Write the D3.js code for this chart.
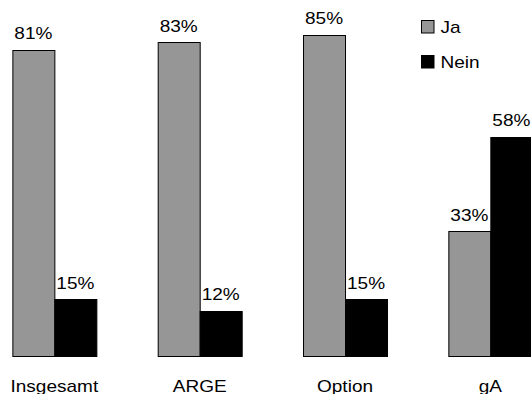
<!DOCTYPE html>
<html>
<head>
<meta charset="utf-8">
<script src="https://cdn.jsdelivr.net/npm/d3@7"></script>
<style>
  html, body { margin: 0; padding: 0; background: #fff; }
  svg { display: block; }
  text { font-family: "Liberation Sans", Arial, sans-serif; fill: #000; }
</style>
</head>
<body>
<svg id="chart" width="531" height="394"></svg>
<script>
// Survey answers per group (percent)
const categories = ["Insgesamt", "ARGE", "Option", "gA"];
const seriesNames = ["Ja", "Nein"];
const jaValues = [81, 83, 85, 33];
const neinValues = [15, 12, 15, 58];
const seriesColors = ["#969696", "#000000"];

const width = 531, height = 394;
const svg = d3.select("#chart");

const data = categories.map((c, i) => ({
  category: c,
  values: [
    { key: seriesNames[0], value: jaValues[i] },
    { key: seriesNames[1], value: neinValues[i] }
  ]
}));

// Category bands: 4 groups of two touching bars
const x0 = d3.scaleBand()
  .domain(categories)
  .range([-18.3, 563])
  .paddingInner(0.422)
  .paddingOuter(0.211);

const x1 = d3.scaleBand()
  .domain(seriesNames)
  .range([0, x0.bandwidth()])
  .padding(0);

const y = d3.scaleLinear().domain([0, 100]).range([356, -22]);

const color = d3.scaleOrdinal().domain(seriesNames).range(seriesColors);

// Text is slightly wider than tall
const sx = 1.12;
const fontSize = 17;

const groups = svg.selectAll("g.group")
  .data(data)
  .join("g")
  .attr("class", "group")
  .attr("transform", d => `translate(${x0(d.category)},0)`);

groups.selectAll("rect")
  .data(d => d.values)
  .join("rect")
  .attr("x", d => x1(d.key) + 0.5)
  .attr("y", d => Math.round(y(d.value)) + 0.5)
  .attr("width", x1.bandwidth())
  .attr("height", d => Math.round(y(0)) - Math.round(y(d.value)))
  .attr("fill", d => color(d.key))
  .attr("stroke", "#000")
  .attr("stroke-width", 1);

// Value labels above bars
groups.selectAll("text.value")
  .data(d => d.values)
  .join("text")
  .attr("class", "value")
  .attr("text-anchor", "middle")
  .attr("font-size", fontSize)
  .attr("transform", d => `translate(${x1(d.key) + x1.bandwidth() / 2},${y(d.value) - 10.5}) scale(${sx},1)`)
  .text(d => d.value + "%");

// Category labels
svg.append("g")
  .selectAll("text")
  .data(categories)
  .join("text")
  .attr("text-anchor", "middle")
  .attr("font-size", fontSize)
  .attr("transform", d => `translate(${x0(d) + x0.bandwidth() / 2},391.5) scale(${sx},1)`)
  .text(d => d);

// Legend
const legend = svg.append("g").attr("transform", "translate(421,20)");
const items = legend.selectAll("g")
  .data(seriesNames)
  .join("g")
  .attr("transform", (d, i) => `translate(0,${i * 35})`);

items.append("rect")
  .attr("x", 0.5)
  .attr("y", 0.5)
  .attr("width", 12.5)
  .attr("height", 12.5)
  .attr("fill", d => color(d))
  .attr("stroke", "#000")
  .attr("stroke-width", 1);

items.append("text")
  .attr("font-size", fontSize)
  .attr("transform", `translate(19.5,13.3) scale(${sx},1)`)
  .text(d => d);
</script>
</body>
</html>
